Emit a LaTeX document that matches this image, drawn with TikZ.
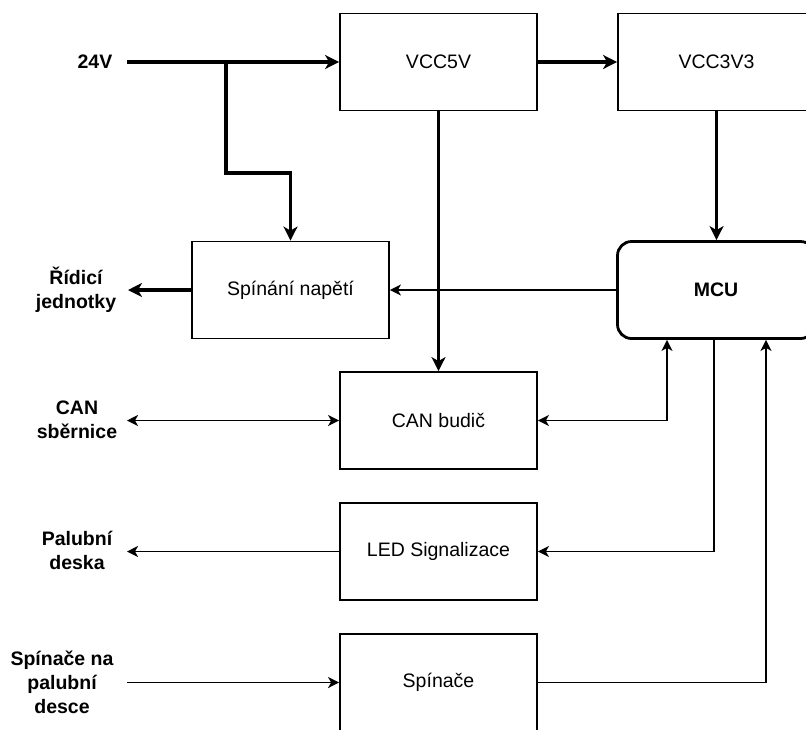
\documentclass[tikz,border=0pt]{standalone}
\usepackage{fontspec}
\setmainfont{Liberation Sans}
\usetikzlibrary{arrows.meta}

\begin{document}
\begin{tikzpicture}[x=0.5pt,y=-0.5pt,
    font=\fontsize{9.75}{12}\selectfont,
    >={Stealth[length=5.5pt,width=5.5pt,inset=1.5pt]},
    blok/.style={draw,line width=0.9pt,minimum width=98.5pt,minimum height=48.5pt,inner sep=0pt},
    mcublok/.style={blok,line width=1.4pt,rounded corners=7pt,font=\fontsize{9.75}{12}\selectfont\bfseries},
    popis/.style={align=center,inner sep=0pt,font=\fontsize{9.75}{12}\selectfont\bfseries},
    tenka/.style={line width=0.9pt,->},
    tlusta/.style={line width=1.8pt,-{Stealth[length=7pt,width=7pt,inset=2pt]}}]
  \clip (0,0) rectangle (806,729);
  % bloky
  \node[blok] (vcc5) at (438.5,62) {VCC5V};
  \node[blok] (vcc3) at (716.5,62) {VCC3V3};
  \node[blok] (spin) at (290.5,290) {Spínání napětí};
  \node[mcublok] (mcu) at (716,290) {MCU};
  \node[blok] (can) at (438.5,420.5) {CAN budič};
  \node[blok] (led) at (438.5,551.5) {LED Signalizace};
  \node[blok] (sw) at (438.5,682.5) {Spínače};
  % popisky vlevo
  \node[popis] (l24) at (95,62) {24V};
  \node[popis] (lrj) at (76,290) {Řídicí\\jednotky};
  \node[popis] (lcan) at (77,420) {CAN\\sběrnice};
  \node[popis] (lpd) at (77,550) {Palubní\\deska};
  \node[popis] (lspz) at (62,682) {Spínače na\\palubní\\desce};
  \coordinate (in24) at (127,62);
  \coordinate (odb) at (226,62);
  \coordinate (ohyb) at (226,173);
  \coordinate (rj) at (128,290);
  \coordinate (canb) at (127,420);
  \coordinate (pd) at (127,550);
  \coordinate (spz) at (127,682);
  % napajeni
  \draw[tlusta] (in24) -- (vcc5.west);
  \draw[tlusta] (odb) -- (ohyb) -| (spin.north);
  \draw[tlusta] (vcc5.east) -- (vcc3.west);
  \draw[tlusta] (vcc5.south) -- (can.north);
  \draw[tlusta] (vcc3.south) -- (vcc3.south |- mcu.north);
  % signaly
  \draw[tenka] (mcu.west) -- (spin.east);
  \draw[tlusta] (spin.west) -- (rj);
  \draw[tenka,<->] (canb |- can.west) -- (can.west);
  \draw[tenka,<->] (can.east) -| ([xshift=-24.5pt]mcu.south);
  \draw[tenka] ([xshift=-1pt]mcu.south) |- (led.east);
  \draw[tenka] (led.west) -- (led.west -| pd);
  \draw[tenka] (sw.east) -| ([xshift=25pt]mcu.south);
  \draw[tenka] (sw.west -| spz) -- (sw.west);
\end{tikzpicture}
\end{document}
